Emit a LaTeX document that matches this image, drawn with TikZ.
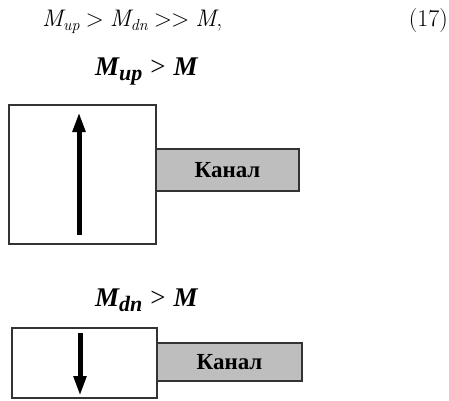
\documentclass[tikz,border=0pt]{standalone}
\usepackage{fontspec}
\newfontfamily\tms{Liberation Serif}
\usetikzlibrary{arrows.meta}
\definecolor{chanfill}{HTML}{BEBEBE}
\definecolor{edge}{HTML}{333333}
\newcommand{\eqsub}[1]{\raisebox{-4pt}{\fontsize{16}{16}\selectfont\itshape #1}}
\newcommand{\lblsub}[1]{\raisebox{-5pt}{\fontsize{22}{22}\selectfont #1}}
\begin{document}
\begin{tikzpicture}[x=1pt,y=-1pt,
  boxst/.style={draw=edge, line width=1.3pt, fill=white, inner sep=0pt, outer sep=0pt, anchor=north west},
  chanst/.style={draw=edge, line width=1.3pt, fill=chanfill, inner sep=0pt, outer sep=0pt, anchor=north west,
    font=\tms\bfseries\fontsize{23}{26}\selectfont},
  lbl/.style={inner sep=0pt, anchor=base west, font=\tms\bfseries\itshape\fontsize{27}{30}\selectfont},
  eqn/.style={inner sep=0pt, font=\fontsize{24}{28}\selectfont},
  arr/.style={line width=5pt, -{Triangle[width=12pt,length=20pt]}}]
\useasboundingbox (0,0) rectangle (449,400);
\begin{scope}
\clip (0,0) rectangle (449,400);
% equation
\node[eqn, anchor=base west] (eq) at (42,26) {\itshape M\eqsub{up}\hspace{6pt}{\upshape >}\hspace{6pt}M\eqsub{dn}\hspace{6pt}{\upshape >\kern-1pt>}\hspace{6pt}M{\upshape ,}};
\node[eqn, anchor=base east] (eqnum) at (448,26) {(17)};
% top part
\node[lbl] (lup) at (95,75) {M\lblsub{up}\hspace{8pt}{\mdseries\upshape >}\hspace{8pt}M};
\node[chanst, minimum width=143pt, minimum height=42pt] (ch1) at (156,149) {Канал};
\node[boxst, minimum width=147pt, minimum height=139pt] (b1) at (9,105) {};
\coordinate (u1) at (79,235);
\coordinate (u2) at (79,112);
\draw[arr] (u1) -- (u2);
% bottom part
\node[lbl] (ldn) at (95,306) {M\lblsub{dn}\hspace{8pt}{\mdseries\upshape >}\hspace{8pt}M};
\node[chanst, minimum width=145pt, minimum height=38pt] (ch2) at (157,343) {Канал};
\node[boxst, minimum width=145pt, minimum height=70pt] (b2) at (12,328) {};
\coordinate (d1) at (80,333);
\coordinate (d2) at (80,396);
\draw[arr] (d1) -- (d2);
\end{scope}
\end{tikzpicture}
\end{document}
